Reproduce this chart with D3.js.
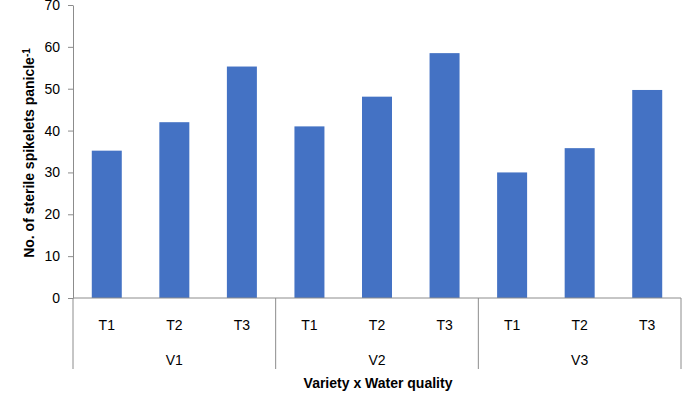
<!DOCTYPE html>
<html>
<head>
<meta charset="utf-8">
<script src="https://cdn.jsdelivr.net/npm/d3@7"></script>
<style>
  body { margin: 0; background: #fff; }
  text { font-family: "Liberation Sans", Arial, sans-serif; fill: #000; }
</style>
</head>
<body>
<div id="chart"></div>
<script>
// chart values
var varieties = ["V1", "V2", "V3"];
var treatments = ["T1", "T2", "T3"];
var v1Values = [35.2, 42.0, 55.3];
var v2Values = [41.0, 48.1, 58.5];
var v3Values = [30.0, 35.8, 49.7];
var yTicks = [0, 10, 20, 30, 40, 50, 60, 70];

var seriesByVariety = [v1Values, v2Values, v3Values];

var data = [];
varieties.forEach(function(v, i) {
    treatments.forEach(function(t, j) {
        data.push({ key: v + "-" + t, variety: v, treatment: t, value: seriesByVariety[i][j] });
    });
});

var width = 698, height = 403;
var margin = { left: 73, right: 17, top: 5, bottom: 105 };
var plotW = width - margin.left - margin.right;
var plotH = height - margin.top - margin.bottom;
var axisColor = "#8c8c8c";

var svg = d3.select("#chart")
    .append("svg")
        .attr("width", width)
        .attr("height", height)
    .append("g")
        .attr("transform", "translate(" + margin.left + "," + margin.top + ")");

var x = d3.scaleBand()
    .domain(data.map(function(d) { return d.key; }))
    .range([0, plotW])
    .paddingInner(0.556)
    .paddingOuter(0.278);

var y = d3.scaleLinear().domain([0, 70]).range([plotH, 0]);

// bars
svg.append("g").selectAll("rect")
    .data(data)
    .enter()
    .append("rect")
    .attr("x", function(d) { return x(d.key); })
    .attr("y", function(d) { return y(d.value); })
    .attr("width", x.bandwidth())
    .attr("height", function(d) { return y(0) - y(d.value); })
    .style("fill", "#4472c4");

// y axis
var yAxis = svg.append("g")
    .call(d3.axisLeft(y).tickValues(yTicks).tickSize(5).tickPadding(8).tickSizeOuter(0));
yAxis.select(".domain").attr("stroke", axisColor);
yAxis.selectAll(".tick line").attr("stroke", axisColor);
yAxis.selectAll(".tick text")
    .style("font-family", "'Liberation Sans', Arial, sans-serif")
    .style("font-size", "14px")
    .attr("fill", "#000");

// zero line
svg.append("line")
    .attr("x1", 0).attr("x2", plotW)
    .attr("y1", y(0)).attr("y2", y(0))
    .attr("stroke", axisColor);

// group separators
var step = x.step();
var groupEdges = [0, 1, 2, 3].map(function(i) { return i * 3 * step; });
svg.append("g").selectAll("line")
    .data(groupEdges)
    .enter()
    .append("line")
    .attr("x1", function(d) { return d; })
    .attr("x2", function(d) { return d; })
    .attr("y1", y(0))
    .attr("y2", y(0) + 71)
    .attr("stroke", axisColor);

// treatment labels
svg.append("g").selectAll("text")
    .data(data)
    .enter()
    .append("text")
    .attr("x", function(d) { return x(d.key) + x.bandwidth() / 2; })
    .attr("y", y(0) + 32)
    .style("text-anchor", "middle")
    .style("font-size", "14px")
    .text(function(d) { return d.treatment; });

// variety labels
svg.append("g").selectAll("text")
    .data(varieties)
    .enter()
    .append("text")
    .attr("x", function(d, i) { return (i * 3 + 1.5) * step; })
    .attr("y", y(0) + 67)
    .style("text-anchor", "middle")
    .style("font-size", "14px")
    .text(function(d) { return d; });

// x axis title
svg.append("text")
    .attr("x", 378 - margin.left)
    .attr("y", y(0) + 90)
    .style("text-anchor", "middle")
    .style("font-size", "14px")
    .style("font-weight", "bold")
    .text("Variety  x Water quality");

// y axis title
var yTitle = svg.append("text")
    .attr("transform", "translate(" + (34 - margin.left) + "," + (153 - margin.top) + ") rotate(-90)")
    .style("text-anchor", "middle")
    .style("font-size", "14px")
    .style("font-weight", "bold");
yTitle.append("tspan").text("No. of sterile spikelets panicle");
yTitle.append("tspan")
    .attr("dy", "-0.45em")
    .style("font-size", "10px")
    .text("-1");
</script>
</body>
</html>
